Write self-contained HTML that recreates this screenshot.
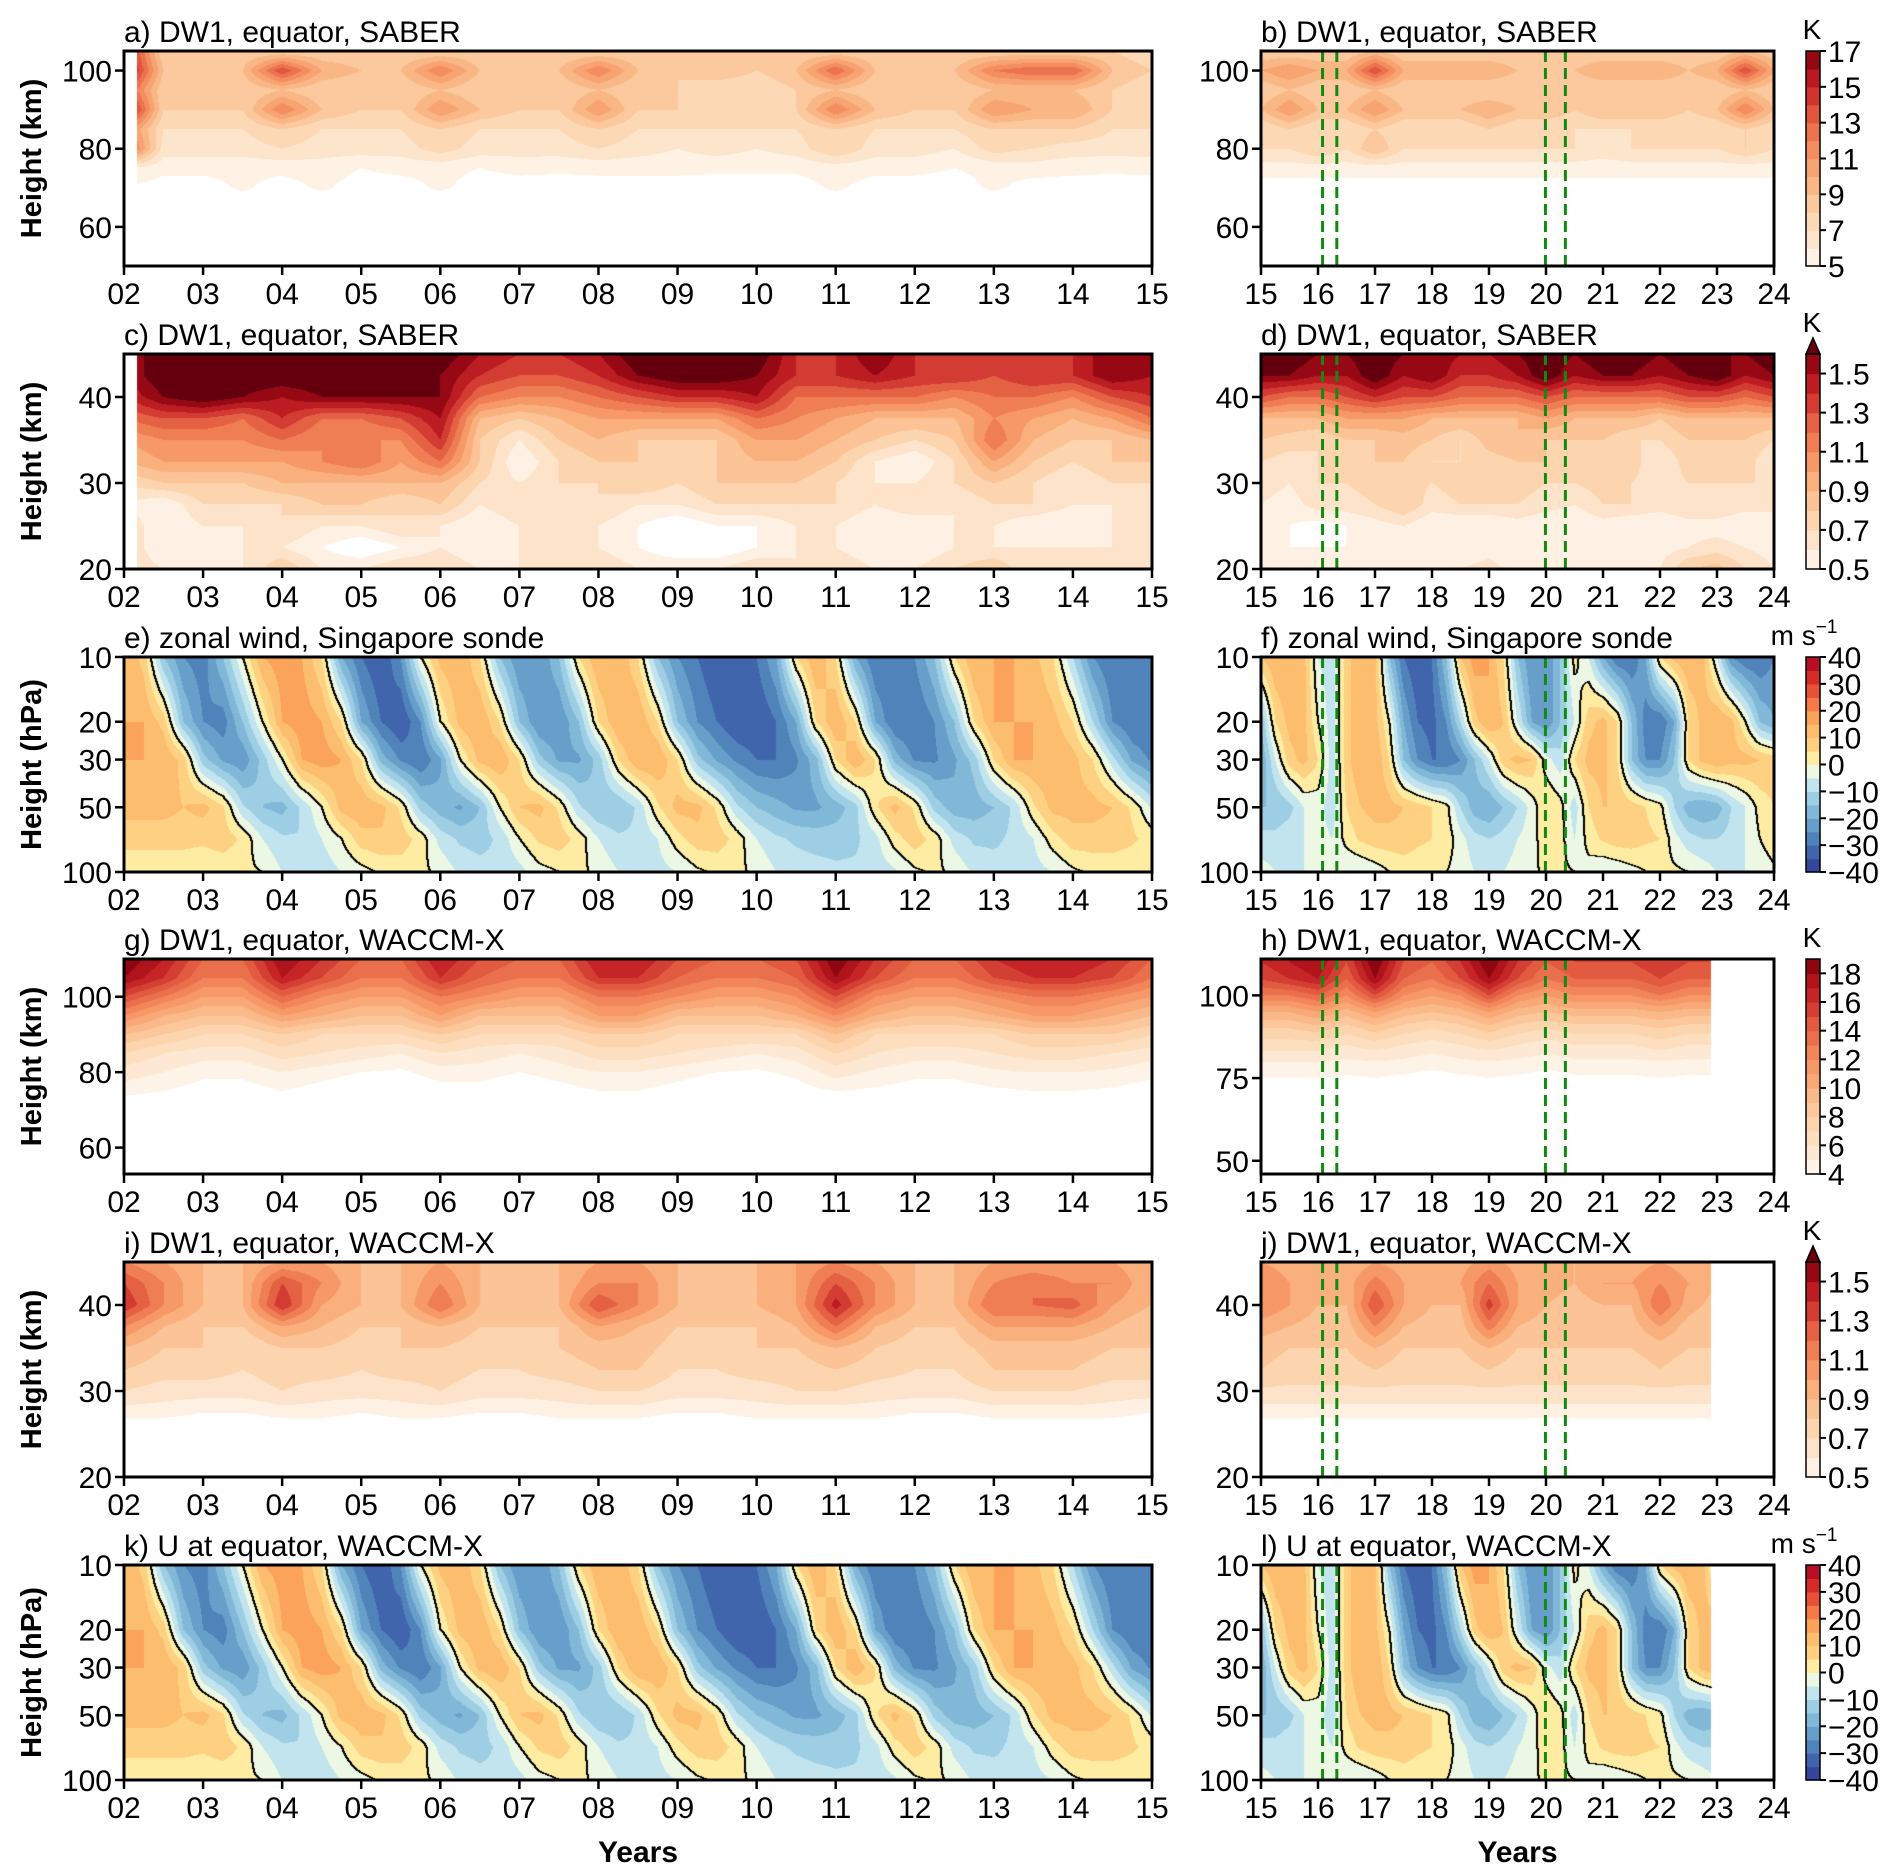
<!DOCTYPE html>
<html>
<head>
<meta charset="utf-8">
<style>
  html,body{margin:0;padding:0;background:#fff;}
  #fig{position:relative;width:1892px;height:1873px;overflow:hidden;background:#fff;font-family:"Liberation Sans",Arial,sans-serif;}
  canvas{position:absolute;}
  svg{position:absolute;left:0;top:0;}
</style>
</head>
<body>
<div id="fig">
<svg id="ov" width="1892" height="1873"></svg>
</div>
<script>
// ---------------- DATA ----------------
const heightsA = [105,100,95,90,85,80,75,70,65,60,50];
const dwA = [
 [16,8,8,8,8,8,8,8,8,8,8,8,8,8,8,8,8,8,8,8,8,8,8,8,8,8,7],
 [17,9,9,9,14,10,9,9,12,9,9,9,12,9,8,9,8,9,13,9,8,9,12,13,13,9,8],
 [14,8,8,8,9,8,8,8,9,8,8,8,9,8,8,7,7,8,9,8,8,8,9,9,9,8,7],
 [17,8,8,8,12,9,8,8,11,9,8,8,11,8,8,8,7,8,12,9,8,8,11,10,10,8,7],
 [12,7,7,7,8,7,7,7,8,7,7,7,8,7,7,7,7,7,8,7,7,7,8,8,8,7,7],
 [14,6.5,6.5,6.5,7,6.5,6.5,6.5,7.5,6.5,6.5,6.5,7,6.5,6,6.5,6,6.5,8,6.5,6.5,6,7.5,7,6.5,6.5,6.5],
 [6,5.3,5.3,5.3,5.3,5.5,5,5.3,5.3,5,5.3,5.2,5.3,5.3,5.3,5.2,5.2,5.2,5.5,5.3,5.3,5,5.3,5.5,5.3,5.2,5.3],
 [5,4.5,4.5,5.2,4.5,5.2,4.5,4.5,5.2,4.5,4.5,4.5,4.5,4.5,4.5,4.5,4.5,4.5,5.2,4.5,4.5,4.5,5.2,4.5,4.5,4.5,4.5],
 [4,4,4,4,4,4,4,4,4,4,4,4,4,4,4,4,4,4,4,4,4,4,4,4,4,4,4],
 [3.5,3.5,3.5,3.5,3.5,3.5,3.5,3.5,3.5,3.5,3.5,3.5,3.5,3.5,3.5,3.5,3.5,3.5,3.5,3.5,3.5,3.5,3.5,3.5,3.5,3.5,3.5],
 [3,3,3,3,3,3,3,3,3,3,3,3,3,3,3,3,3,3,3,3,3,3,3,3,3,3,3]
];
const heightsB = [105,100,95,90,85,80,75,70,65,60,50];
const dwB = [
 [8,8,8,8,9,8,8,8,8,8,8,8,8,8,8,8,8,9,8],
 [10,11,10,10,14,10,10,10,10,9,9,9,10,10,10,9,10,14,10],
 [8,9,8,8,9,8,8,8,8,8,8,8,8,8,8,8,8,9,8],
 [9,11,9,9,11,9,9,9,10,9,9,8,9,9,9,8,9,12,9],
 [7,8,7,7,8,7,7,7,8,7,7,7,7,7,7,7,7,8,7],
 [7,7,8,7,9,7,7,7,7,7,7,7,6.5,7,7,7,7,8,7],
 [5.5,5.5,5.5,5.5,5.5,5.5,5.5,5.5,5.5,5.5,5.5,5.5,5.5,5.5,5.5,5.5,5.5,5.5,5.5],
 [4.5,4.5,4.5,4.5,4.5,4.5,4.5,4.5,4.5,4.5,4.5,4.5,4.5,4.5,4.5,4.5,4.5,4.5,4.5],
 [4,4,4,4,4,4,4,4,4,4,4,4,4,4,4,4,4,4,4],
 [3.5,3.5,3.5,3.5,3.5,3.5,3.5,3.5,3.5,3.5,3.5,3.5,3.5,3.5,3.5,3.5,3.5,3.5,3.5],
 [3,3,3,3,3,3,3,3,3,3,3,3,3,3,3,3,3,3,3]
];
const heightsC = [45,42.5,40,37.5,35,32.5,30,27.5,25,22.5,20];
const dwC = [
 [1.5,1.7,1.7,1.7,1.7,1.7,1.7,1.7,1.7,1.5,1.4,1.4,1.5,1.7,1.7,1.7,1.7,1.4,1.4,1.6,1.4,1.4,1.3,1.4,1.4,1.6,1.5],
 [1.5,1.7,1.7,1.7,1.7,1.7,1.7,1.7,1.6,1.4,1.3,1.3,1.4,1.6,1.7,1.7,1.6,1.4,1.4,1.5,1.4,1.4,1.3,1.4,1.4,1.6,1.5],
 [1.4,1.6,1.7,1.6,1.5,1.6,1.6,1.6,1.6,1.2,1.1,1.1,1.2,1.3,1.4,1.4,1.5,1.2,1.2,1.2,1.2,1.1,1.2,1.2,1.1,1.3,1.4],
 [1.2,1.3,1.3,1.2,1.4,1.2,1.2,1.3,1.5,0.9,0.8,0.9,1.0,1.0,1.0,1.0,1.2,1.1,1.0,0.9,0.9,0.9,1.1,1.0,0.9,1.0,1.2],
 [1.0,1.1,1.1,1.1,1.2,1.1,1.1,1.1,1.4,0.8,0.6,0.8,0.9,0.8,0.8,0.8,1.0,1.0,0.9,0.8,0.7,0.8,1.2,0.9,0.8,0.8,0.9],
 [0.9,1.0,1.0,1.0,1.0,1.1,1.2,1.0,1.2,0.8,0.5,0.7,0.8,0.8,0.7,0.8,0.9,0.9,0.8,0.6,0.5,0.7,1.0,0.8,0.7,0.8,0.8],
 [0.7,0.8,0.8,0.8,0.9,0.9,0.9,0.9,0.9,0.7,0.6,0.7,0.7,0.8,0.7,0.8,0.8,0.8,0.7,0.6,0.6,0.7,0.8,0.7,0.6,0.7,0.7],
 [0.6,0.5,0.7,0.7,0.7,0.8,0.8,0.7,0.8,0.6,0.7,0.7,0.7,0.6,0.6,0.7,0.7,0.7,0.7,0.6,0.7,0.6,0.7,0.7,0.6,0.6,0.7],
 [0.7,0.5,0.6,0.6,0.7,0.6,0.6,0.7,0.6,0.5,0.6,0.6,0.6,0.5,0.4,0.5,0.5,0.6,0.6,0.5,0.5,0.6,0.6,0.5,0.5,0.6,0.6],
 [0.7,0.5,0.5,0.6,0.6,0.5,0.4,0.5,0.6,0.5,0.6,0.6,0.6,0.5,0.4,0.4,0.5,0.6,0.6,0.5,0.5,0.6,0.6,0.6,0.6,0.6,0.6],
 [0.7,0.6,0.6,0.6,0.8,0.6,0.6,0.7,0.7,0.6,0.6,0.6,0.7,0.6,0.6,0.6,0.7,0.6,0.7,0.6,0.6,0.7,0.8,0.6,0.6,0.6,0.6]
];
const heightsD = [45,42.5,40,37.5,35,32.5,30,27.5,25,22.5,20];
const dwD = [
 [1.6,1.7,1.6,1.6,1.7,1.6,1.6,1.5,1.5,1.6,1.7,1.6,1.7,1.7,1.6,1.7,1.6,1.6,1.7],
 [1.6,1.6,1.5,1.5,1.7,1.5,1.6,1.4,1.4,1.5,1.7,1.5,1.6,1.6,1.5,1.6,1.7,1.5,1.6],
 [1.3,1.2,1.2,1.3,1.4,1.3,1.3,1.2,1.2,1.2,1.3,1.2,1.2,1.2,1.2,1.3,1.3,1.2,1.3],
 [0.9,0.9,0.9,1.0,1.0,1.0,0.9,0.9,0.9,0.9,1.0,0.9,0.9,0.9,0.8,0.9,0.9,0.9,0.9],
 [0.8,0.75,0.7,0.8,0.8,0.85,0.8,0.7,0.85,0.9,0.8,0.8,0.8,0.7,0.7,0.8,0.8,0.8,0.7],
 [0.7,0.65,0.7,0.75,0.8,0.8,0.7,0.7,0.75,0.8,0.8,0.75,0.8,0.75,0.6,0.75,0.8,0.75,0.6],
 [0.65,0.6,0.7,0.7,0.75,0.75,0.7,0.75,0.7,0.75,0.7,0.7,0.75,0.7,0.65,0.7,0.7,0.7,0.7],
 [0.6,0.55,0.65,0.65,0.7,0.8,0.65,0.7,0.7,0.7,0.65,0.6,0.7,0.7,0.65,0.7,0.7,0.65,0.65],
 [0.55,0.5,0.45,0.5,0.55,0.6,0.5,0.5,0.5,0.55,0.5,0.5,0.55,0.5,0.5,0.55,0.55,0.5,0.5],
 [0.55,0.5,0.5,0.5,0.5,0.5,0.5,0.5,0.55,0.5,0.5,0.5,0.5,0.5,0.55,0.6,0.65,0.6,0.55],
 [0.6,0.6,0.55,0.55,0.55,0.6,0.55,0.6,0.65,0.55,0.55,0.55,0.6,0.6,0.6,0.8,0.85,0.7,0.6]
];
const pressE = [10,20,30,50,70,100];
const windE = [
 [15,8,-15,-25,-28,-15,0,15,18,15,5,-20,-30,-35,-25,0,12,15,5,-15,-25,-25,-15,5,15,15,5,-15,-25,-30,-35,-35,-30,-20,5,15,5,-20,-30,-30,-25,-15,5,15,15,15,12,5,-10,-25,-30,-30,-28],
 [15,15,8,-15,-25,-28,-15,0,15,18,15,5,-20,-30,-35,-25,0,12,15,5,-15,-25,-25,-15,5,15,15,5,-15,-25,-30,-35,-35,-30,-20,5,15,5,-20,-30,-30,-25,-15,5,15,15,15,12,5,-10,-25,-30,-30],
 [15,15,15,8,-13,-21,-24,-13,0,15,18,15,5,-17,-26,-30,-21,0,12,15,5,-13,-21,-21,-13,5,15,15,5,-13,-21,-26,-30,-30,-26,-17,5,15,5,-17,-26,-26,-21,-13,5,15,15,15,12,5,-8,-21,-26],
 [12,12,12,10,12,6,-9,-15,-17,-9,0,12,14,12,4,-12,-18,-21,-15,0,10,12,4,-9,-15,-15,-9,4,12,12,4,-9,-15,-18,-21,-21,-18,-12,4,12,4,-12,-18,-18,-15,-9,4,12,12,12,10,4,-6],
 [7,7,7,7,6,8,4,-5,-9,-10,-5,0,8,9,8,3,-7,-11,-12,-9,0,6,8,3,-5,-9,-9,-5,3,8,8,3,-5,-9,-11,-12,-12,-11,-7,3,8,3,-7,-11,-11,-9,-5,3,8,8,8,6,3],
 [1,1,1,1,1,1,1,0,-5,-7,-8,-5,-2,1,2,1,-1,-6,-8,-9,-7,-2,0,1,-1,-5,-7,-7,-5,-1,1,1,-1,-5,-7,-8,-9,-9,-8,-6,-1,1,-1,-6,-8,-8,-7,-5,-1,1,1,1,0]
];
const pressF = [10,20,30,50,70,100];
const windF = [
 [10,15,15,12,-5,-8,8,15,12,-15,-30,-35,-30,-15,10,18,15,5,-15,-25,-25,-15,2,-5,-20,-30,-30,-20,5,12,15,12,-5,-25,-30,-30,-25],
 [-15,5,12,12,0,-8,8,15,12,0,-20,-30,-32,-25,-10,8,15,10,-5,-20,-25,-15,-5,8,12,5,-15,-28,-30,-20,5,12,15,12,0,-15,-20],
 [-20,-5,8,12,5,-8,8,15,15,5,-15,-25,-30,-30,-25,-15,-5,8,12,10,-3,-8,5,12,12,5,-15,-25,-25,-15,5,12,15,12,12,10,8],
 [-15,-15,-12,-5,-3,-8,5,10,12,12,10,8,5,2,-10,-18,-20,-15,-10,-3,5,2,-8,5,10,10,8,5,2,-10,-18,-20,-18,-10,-5,2,5],
 [-8,-8,-6,-5,-3,-5,2,6,8,8,8,6,5,3,-3,-8,-10,-8,-5,-2,3,2,-5,2,6,8,8,6,5,-3,-8,-10,-10,-8,-5,0,3],
 [-3,-5,-5,-5,-3,-3,-5,-5,-3,0,2,2,2,0,-2,-5,-6,-5,-3,-1,1,1,0,-2,-5,-4,-2,0,1,1,0,-2,-5,-6,-5,-3,-1]
];
const heightsG = [110,105,100,95,90,85,80,75,70,50];
const dwG = [
 [19,17,14,14,18,16,14,14,17,15,14,14,17,17,15,14,14,15,19,16,14,14,16,17,17,16,14],
 [18,16,13,13,17,15,13,13,16,14,13,13,16,16,14,13,13,14,18,15,13,13,15,16,16,15,13],
 [15,13,11,11,14,12,11,11,13,12,11,11,13,13,12,11,11,12,15,12,11,11,12,13,13,12,11],
 [12,10,9,9,11,10,9,9,11,9,9,9,11,11,9,9,9,10,12,10,9,9,10,11,11,10,9],
 [9,8,7,7,8,7,7,7,8,7,7,7,8,8,7,7,7,7,9,7,7,7,7,8,8,8,7],
 [7,6,5.5,5.5,6.5,6,5.5,5,6,5.5,5,5.5,6.5,6.5,6,5.5,5,5.5,7,6,5.5,5.5,6,6.5,6.5,6,5.5],
 [5.5,5,4.3,4.3,5,4.5,4,3.8,4.5,4.5,4,4.5,5,5,4.5,4,3.8,4.3,5.5,4.8,4.3,4.3,4.8,5,5,4.8,4.3],
 [4.5,4,3.5,3.5,4,3.5,3,3,3.5,3.5,3,3.5,4,4,3.5,3,3,3.5,4,3.8,3.5,3.5,3.8,4,4,3.8,3.5],
 [2.5,2.5,2.5,2.5,2.5,2.5,2.5,2.5,2.5,2.5,2.5,2.5,2.5,2.5,2.5,2.5,2.5,2.5,2.5,2.5,2.5,2.5,2.5,2.5,2.5,2.5,2.5],
 [1,1,1,1,1,1,1,1,1,1,1,1,1,1,1,1,1,1,1,1,1,1,1,1,1,1,1]
];
const heightsH = [110,105,100,95,90,85,80,75,70,46];
const dwH = [
 [16,17,18,15,19,15,14,16,19,16,14,15,15,15,16,15,15],
 [15,16,17,14,18,14,13,15,18,15,13,14,14,14,15,14,14],
 [13,13,14,12,15,12,11,12,15,12,11,12,12,12,13,12,12],
 [10,10,11,9.5,11,9.5,9,9.5,11,9.5,9,9.5,9.5,9.5,10,9.5,9.5],
 [8,8,8.5,7.5,8.5,7.5,7,7.5,8.5,7.5,7,7.5,7.5,7.5,8,7.5,7.5],
 [6.5,6.5,6.5,6,6.5,6,5.5,6,6.5,6,5.5,6,6,6,6.5,6,6],
 [5,5,5,4.8,5,4.8,4.5,4.8,5,4.8,4.5,4.8,4.8,4.8,5,4.8,4.8],
 [4,4,4,3.8,4,3.8,3.5,3.8,4,3.8,3.5,3.8,3.8,3.8,4,3.8,3.8],
 [2.5,2.5,2.5,2.5,2.5,2.5,2.5,2.5,2.5,2.5,2.5,2.5,2.5,2.5,2.5,2.5,2.5],
 [1,1,1,1,1,1,1,1,1,1,1,1,1,1,1,1,1]
];
const heightsI = [45,42.5,40,37.5,35,32.5,30,27.5,25,22.5,20];
const dwI = [
 [1.1,1.0,0.9,0.9,1.0,1.0,0.9,0.9,1.0,0.9,0.9,0.9,1.0,1.0,0.9,0.9,0.9,1.0,1.1,1.0,0.9,0.9,1.0,1.0,1.0,1.0,0.9],
 [1.3,1.1,0.9,0.9,1.3,1.1,0.9,0.9,1.1,0.9,0.9,0.9,1.1,1.1,0.9,0.9,0.9,1.0,1.3,1.1,0.9,0.9,1.1,1.2,1.1,1.1,0.9],
 [1.4,1.1,0.9,0.9,1.4,1.0,0.9,0.9,1.2,0.9,0.9,0.9,1.3,1.1,0.9,0.8,0.9,1.0,1.45,1.1,0.9,0.9,1.2,1.2,1.25,1.0,0.9],
 [1.1,0.9,0.8,0.8,1.0,0.9,0.8,0.8,0.9,0.8,0.8,0.8,1.0,0.9,0.8,0.8,0.8,0.9,1.2,0.9,0.8,0.8,1.0,1.0,1.0,0.9,0.8],
 [0.9,0.8,0.8,0.7,0.8,0.8,0.75,0.8,0.8,0.75,0.75,0.8,0.85,0.85,0.75,0.75,0.8,0.8,0.9,0.8,0.75,0.75,0.85,0.85,0.85,0.8,0.8],
 [0.8,0.75,0.75,0.7,0.75,0.75,0.7,0.75,0.75,0.7,0.7,0.75,0.8,0.8,0.7,0.7,0.75,0.75,0.8,0.75,0.7,0.7,0.8,0.8,0.8,0.75,0.75],
 [0.7,0.65,0.65,0.65,0.7,0.65,0.65,0.65,0.7,0.65,0.65,0.65,0.7,0.7,0.65,0.65,0.65,0.7,0.7,0.65,0.65,0.65,0.7,0.7,0.7,0.65,0.65],
 [0.55,0.55,0.5,0.5,0.55,0.55,0.5,0.55,0.55,0.5,0.5,0.55,0.55,0.55,0.5,0.5,0.55,0.55,0.55,0.55,0.5,0.5,0.55,0.55,0.55,0.55,0.5],
 [0.35,0.35,0.35,0.35,0.35,0.35,0.35,0.35,0.35,0.35,0.35,0.35,0.35,0.35,0.35,0.35,0.35,0.35,0.35,0.35,0.35,0.35,0.35,0.35,0.35,0.35,0.35],
 [0.2,0.2,0.2,0.2,0.2,0.2,0.2,0.2,0.2,0.2,0.2,0.2,0.2,0.2,0.2,0.2,0.2,0.2,0.2,0.2,0.2,0.2,0.2,0.2,0.2,0.2,0.2],
 [0.1,0.1,0.1,0.1,0.1,0.1,0.1,0.1,0.1,0.1,0.1,0.1,0.1,0.1,0.1,0.1,0.1,0.1,0.1,0.1,0.1,0.1,0.1,0.1,0.1,0.1,0.1]
];
const heightsJ = [45,42.5,40,37.5,35,32.5,30,27.5,25,22.5,20];
const dwJ = [
 [1.0,0.95,0.95,0.9,1.0,0.95,0.9,0.95,1.05,0.95,0.9,0.9,0.95,0.95,1.0,0.95,0.9],
 [1.1,1.0,0.95,0.95,1.15,1.0,0.95,1.0,1.2,1.0,0.95,0.9,1.0,1.0,1.1,1.0,0.9],
 [1.1,1.0,0.9,0.9,1.3,1.0,0.9,0.9,1.35,1.0,0.9,0.85,0.9,0.9,1.2,0.95,0.85],
 [0.95,0.9,0.85,0.85,1.1,0.9,0.85,0.85,1.15,0.9,0.85,0.8,0.85,0.85,1.0,0.85,0.8],
 [0.85,0.8,0.8,0.8,0.9,0.8,0.8,0.8,0.9,0.8,0.8,0.8,0.8,0.8,0.85,0.8,0.8],
 [0.8,0.75,0.75,0.75,0.8,0.75,0.75,0.75,0.8,0.75,0.75,0.75,0.75,0.75,0.8,0.75,0.75],
 [0.68,0.68,0.68,0.68,0.68,0.68,0.68,0.68,0.68,0.68,0.68,0.68,0.68,0.68,0.68,0.68,0.68],
 [0.55,0.55,0.55,0.55,0.55,0.55,0.55,0.55,0.55,0.55,0.55,0.55,0.55,0.55,0.55,0.55,0.55],
 [0.35,0.35,0.35,0.35,0.35,0.35,0.35,0.35,0.35,0.35,0.35,0.35,0.35,0.35,0.35,0.35,0.35],
 [0.2,0.2,0.2,0.2,0.2,0.2,0.2,0.2,0.2,0.2,0.2,0.2,0.2,0.2,0.2,0.2,0.2],
 [0.1,0.1,0.1,0.1,0.1,0.1,0.1,0.1,0.1,0.1,0.1,0.1,0.1,0.1,0.1,0.1,0.1]
];
const pressK = [10,20,30,50,70,100];
const windK = [
 [15,8,-15,-25,-28,-15,0,15,18,15,5,-20,-30,-35,-25,0,12,15,5,-15,-25,-25,-15,5,15,15,5,-15,-25,-30,-35,-35,-30,-20,5,15,5,-20,-30,-30,-25,-15,5,15,15,15,12,5,-10,-25,-30,-30,-28],
 [15,15,8,-15,-25,-28,-15,0,15,18,15,5,-20,-30,-35,-25,0,12,15,5,-15,-25,-25,-15,5,15,15,5,-15,-25,-30,-35,-35,-30,-20,5,15,5,-20,-30,-30,-25,-15,5,15,15,15,12,5,-10,-25,-30,-30],
 [15,15,15,8,-13,-21,-24,-13,0,15,18,15,5,-17,-26,-30,-21,0,12,15,5,-13,-21,-21,-13,5,15,15,5,-13,-21,-26,-30,-30,-26,-17,5,15,5,-17,-26,-26,-21,-13,5,15,15,15,12,5,-8,-21,-26],
 [12,12,12,10,12,6,-9,-15,-17,-9,0,12,14,12,4,-12,-18,-21,-15,0,10,12,4,-9,-15,-15,-9,4,12,12,4,-9,-15,-18,-21,-21,-18,-12,4,12,4,-12,-18,-18,-15,-9,4,12,12,12,10,4,-6],
 [7,7,7,7,6,8,4,-5,-9,-10,-5,0,8,9,8,3,-7,-11,-12,-9,0,6,8,3,-5,-9,-9,-5,3,8,8,3,-5,-9,-11,-12,-12,-11,-7,3,8,3,-7,-11,-11,-9,-5,3,8,8,8,6,3],
 [1,1,1,1,1,1,1,0,-5,-7,-8,-5,-2,1,2,1,-1,-6,-8,-9,-7,-2,0,1,-1,-5,-7,-7,-5,-1,1,1,-1,-5,-7,-8,-9,-9,-8,-6,-1,1,-1,-6,-8,-8,-7,-5,-1,1,1,1,0]
];
const pressL = [10,20,30,50,70,100];
const windL = [
 [10,15,15,12,-5,-8,8,15,12,-15,-30,-35,-30,-15,10,18,15,5,-15,-25,-25,-15,2,-5,-20,-30,-30,-20,5,12,15,12,-5],
 [-15,5,12,12,0,-8,8,15,12,0,-20,-30,-32,-25,-10,8,15,10,-5,-20,-25,-15,-5,8,12,5,-15,-28,-30,-20,5,12,15],
 [-20,-5,8,12,5,-8,8,15,15,5,-15,-25,-30,-30,-25,-15,-5,8,12,10,-3,-8,5,12,12,5,-15,-25,-25,-15,5,12,15],
 [-15,-15,-12,-5,-3,-8,5,10,12,12,10,8,5,2,-10,-18,-20,-15,-10,-3,5,2,-8,5,10,10,8,5,2,-10,-18,-20,-18],
 [-8,-8,-6,-5,-3,-5,2,6,8,8,8,6,5,3,-3,-8,-10,-8,-5,-2,3,2,-5,2,6,8,8,6,5,-3,-8,-10,-10],
 [-3,-5,-5,-5,-3,-3,-5,-5,-3,0,2,2,2,0,-2,-5,-6,-5,-3,-1,1,1,0,-2,-5,-4,-2,0,1,1,0,-2,-5]
];
const yearTicksLeft = ['02','03','04','05','06','07','08','09','10','11','12','13','14','15'];
const yearTicksRight = ['15','16','17','18','19','20','21','22','23','24'];
const dashedYears = [2016.08, 2016.33, 2019.99, 2020.34];
const cbTicksK1 = [5,7,9,11,13,15,17];
const cbTicksK2 = [0.5,0.7,0.9,1.1,1.3,1.5];
const cbTicksU = [-40,-30,-20,-10,0,10,20,30,40];
const cbTicksK4 = [4,6,8,10,12,14,16,18];

// ---------------- LAYOUT ----------------
const LEFT = {x0:124, x1:1152, t0:2002, t1:2015, labels:yearTicksLeft};
const RIGHT = {x0:1261, x1:1774, t0:2015, t1:2024, labels:yearTicksRight};
const ROW_TOP = [51,354,657,959,1262,1565];
const PH = 215;
const CBX = 1806, CBW = 14;

const REDS = [[0,'#fff8f1'],[0.1,'#fde9d3'],[0.25,'#fcd2a9'],[0.4,'#f9b27f'],[0.55,'#f48b5d'],[0.7,'#e25b40'],[0.82,'#c9282a'],[0.92,'#a90f17'],[1,'#7d0010']];
const RDYLBU = [[0,'#313695'],[0.125,'#4575b4'],[0.25,'#74add1'],[0.375,'#abd9e9'],[0.45,'#e0f3f8'],[0.5,'#ffffbf'],[0.55,'#fee090'],[0.7,'#fdae61'],[0.8,'#f46d43'],[0.9,'#d73027'],[1,'#a50026']];

const cbars = [
  {row:0, vmin:5, vmax:17, step:1, cmap:REDS, ticks:cbTicksK1, unit:'K', extend:false, under:'white', fmt:v=>String(v)},
  {row:1, vmin:0.5, vmax:1.6, step:0.1, cmap:REDS, ticks:cbTicksK2, unit:'K', extend:true, under:'white', fmt:v=>v.toFixed(1)},
  {row:2, vmin:-40, vmax:40, step:5, cmap:RDYLBU, ticks:cbTicksU, unit:'ms', extend:false, under:'low', fmt:v=>v<0?'\u2212'+(-v):String(v)},
  {row:3, vmin:4, vmax:19, step:1, cmap:REDS, ticks:cbTicksK4, unit:'K', extend:false, under:'white', fmt:v=>String(v)},
  {row:4, vmin:0.5, vmax:1.6, step:0.1, cmap:REDS, ticks:cbTicksK2, unit:'K', extend:true, under:'white', fmt:v=>v.toFixed(1)},
  {row:5, vmin:-40, vmax:40, step:5, cmap:RDYLBU, ticks:cbTicksU, unit:'ms', extend:false, under:'low', fmt:v=>v<0?'\u2212'+(-v):String(v)}
];

const panels = [
 {id:'a', col:LEFT, row:0, title:'a) DW1, equator, SABER', ylab:'Height (km)', axis:{type:'lin',min:50,max:105,ticks:[60,80,100]}, levels:heightsA, data:dwA, dt0:2002, dt:0.5, tStart:2002.17, tEnd:2015, wind:false},
 {id:'b', col:RIGHT, row:0, title:'b) DW1, equator, SABER', ylab:'', axis:{type:'lin',min:50,max:105,ticks:[60,80,100]}, levels:heightsB, data:dwB, dt0:2015, dt:0.5, tStart:2015, tEnd:2024, wind:false},
 {id:'c', col:LEFT, row:1, title:'c) DW1, equator, SABER', ylab:'Height (km)', axis:{type:'lin',min:20,max:45,ticks:[20,30,40]}, levels:heightsC, data:dwC, dt0:2002, dt:0.5, tStart:2002.17, tEnd:2015, wind:false},
 {id:'d', col:RIGHT, row:1, title:'d) DW1, equator, SABER', ylab:'', axis:{type:'lin',min:20,max:45,ticks:[20,30,40]}, levels:heightsD, data:dwD, dt0:2015, dt:0.5, tStart:2015, tEnd:2024, wind:false},
 {id:'e', col:LEFT, row:2, title:'e) zonal wind, Singapore sonde', ylab:'Height (hPa)', axis:{type:'log',min:10,max:100,ticks:[10,20,30,50,100]}, levels:pressE, data:windE, dt0:2002, dt:0.25, tStart:2002, tEnd:2015, wind:true},
 {id:'f', col:RIGHT, row:2, title:'f) zonal wind, Singapore sonde', ylab:'', axis:{type:'log',min:10,max:100,ticks:[10,20,30,50,100]}, levels:pressF, data:windF, dt0:2015, dt:0.25, tStart:2015, tEnd:2024, wind:true},
 {id:'g', col:LEFT, row:3, title:'g) DW1, equator, WACCM-X', ylab:'Height (km)', axis:{type:'lin',min:53,max:110,ticks:[60,80,100]}, levels:heightsG, data:dwG, dt0:2002, dt:0.5, tStart:2002, tEnd:2015, wind:false},
 {id:'h', col:RIGHT, row:3, title:'h) DW1, equator, WACCM-X', ylab:'', axis:{type:'lin',min:46,max:111,ticks:[50,75,100]}, levels:heightsH, data:dwH, dt0:2015, dt:0.5, tStart:2015, tEnd:2022.9, wind:false},
 {id:'i', col:LEFT, row:4, title:'i) DW1, equator, WACCM-X', ylab:'Height (km)', axis:{type:'lin',min:20,max:45,ticks:[20,30,40]}, levels:heightsI, data:dwI, dt0:2002, dt:0.5, tStart:2002, tEnd:2015, wind:false},
 {id:'j', col:RIGHT, row:4, title:'j) DW1, equator, WACCM-X', ylab:'', axis:{type:'lin',min:20,max:45,ticks:[20,30,40]}, levels:heightsJ, data:dwJ, dt0:2015, dt:0.5, tStart:2015, tEnd:2022.9, wind:false},
 {id:'k', col:LEFT, row:5, title:'k) U at equator, WACCM-X', ylab:'Height (hPa)', axis:{type:'log',min:10,max:100,ticks:[10,20,30,50,100]}, levels:pressK, data:windK, dt0:2002, dt:0.25, tStart:2002, tEnd:2015, wind:true},
 {id:'l', col:RIGHT, row:5, title:'l) U at equator, WACCM-X', ylab:'', axis:{type:'log',min:10,max:100,ticks:[10,20,30,50,100]}, levels:pressL, data:windL, dt0:2015, dt:0.25, tStart:2015, tEnd:2022.9, wind:true}
];

// ---------------- HELPERS ----------------
const NS = 'http://www.w3.org/2000/svg';
const ov = document.getElementById('ov');
const fig = document.getElementById('fig');
function hexRGB(h){return [parseInt(h.slice(1,3),16),parseInt(h.slice(3,5),16),parseInt(h.slice(5,7),16)];}
function cmapRGB(stops,p){
  p=Math.max(0,Math.min(1,p));
  for(let i=0;i<stops.length-1;i++){
    const a=stops[i],b=stops[i+1];
    if(p<=b[0]){const f=(p-a[0])/(b[0]-a[0]);const A=hexRGB(a[1]),B=hexRGB(b[1]);return [A[0]+(B[0]-A[0])*f,A[1]+(B[1]-A[1])*f,A[2]+(B[2]-A[2])*f].map(Math.round);}
  }
  return hexRGB(stops[stops.length-1][1]);
}
function bandRGB(cb,v){
  const n=Math.round((cb.vmax-cb.vmin)/cb.step);
  if(v<cb.vmin){ if(cb.under==='white') return null; return cmapRGB(cb.cmap,0.5/n); }
  let k=Math.floor((v-cb.vmin)/cb.step+1e-9);
  if(k>=n){ if(cb.extend) return [100,0,13]; k=n-1; }
  return cmapRGB(cb.cmap,(k+0.5)/n);
}
function yOf(p,v){
  const top=ROW_TOP[p.row], a=p.axis;
  if(a.type==='lin') return top+(a.max-v)/(a.max-a.min)*PH;
  return top+(Math.log10(v)-Math.log10(a.min))/(Math.log10(a.max)-Math.log10(a.min))*PH;
}
function xOf(col,t){return col.x0+(t-col.t0)/(col.t1-col.t0)*(col.x1-col.x0);}
function sv(tag,attrs){const e=document.createElementNS(NS,tag);for(const k in attrs)e.setAttribute(k,attrs[k]);ov.appendChild(e);return e;}
function txt(x,y,s,size,anchor,weight){
  const t=sv('text',{x:x,y:y,'font-size':size,'text-anchor':anchor||'start','font-family':'"Liberation Sans", Arial, sans-serif','font-weight':weight||'normal',fill:'#000'});
  t.textContent=s;return t;
}

// ---------------- FIELDS ----------------
function drawField(p){
  const cb=cbars[p.row];
  const col=p.col, top=ROW_TOP[p.row];
  const w=col.x1-col.x0, h=PH;
  const cv=document.createElement('canvas');
  
  
  cv.width=w; cv.height=h;
  cv.style.left=col.x0+'px'; cv.style.top=top+'px';
  fig.insertBefore(cv, ov);
  const ctx=cv.getContext('2d');
  const img=ctx.createImageData(w,h);
  const rowsPix=p.levels.map(l=>yOf(p,l)-top);
  const ncol=p.data[0].length, nrow=p.levels.length;
  const vals=new Float32Array(w*h).fill(NaN);
  for(let px=0;px<w;px++){
    const t=col.t0+(px+0.5)/w*(col.t1-col.t0);
    if(t<p.tStart||t>p.tEnd) continue;
    let fi=(t-p.dt0)/p.dt; fi=Math.max(0,Math.min(ncol-1,fi));
    const i0=Math.min(ncol-2,Math.floor(fi)), fx=fi-i0;
    for(let py=0;py<h;py++){
      const y=py+0.5; let k0,fy;
      if(y<=rowsPix[0]){k0=0;fy=0;}
      else if(y>=rowsPix[nrow-1]){k0=nrow-2;fy=1;}
      else{ k0=0; while(k0<nrow-2 && y>rowsPix[k0+1]) k0++; fy=(y-rowsPix[k0])/(rowsPix[k0+1]-rowsPix[k0]); }
      const r0=p.data[k0], r1=p.data[k0+1];
      const a=r0[i0]*(1-fx)+r0[i0+1]*fx, b=r1[i0]*(1-fx)+r1[i0+1]*fx;
      vals[py*w+px]=a*(1-fy)+b*fy;
    }
  }
  const d=img.data;
  for(let i=0;i<w*h;i++){
    const v=vals[i]; let c=null;
    if(!isNaN(v)) c=bandRGB(cb,v);
    if(c){d[i*4]=c[0];d[i*4+1]=c[1];d[i*4+2]=c[2];d[i*4+3]=255;}
    else{d[i*4]=255;d[i*4+1]=255;d[i*4+2]=255;d[i*4+3]=255;}
  }
  if(p.wind){
    for(let py=0;py<h-1;py++)for(let px=0;px<w-1;px++){
      const i=py*w+px, v=vals[i];
      if(isNaN(v)) continue;
      const r=vals[i+1], b=vals[i+w];
      if((!isNaN(r)&&(v>=0)!==(r>=0))||(!isNaN(b)&&(v>=0)!==(b>=0))){
        for(const j of [i,i+1]){d[j*4]=0;d[j*4+1]=0;d[j*4+2]=0;}
      }
    }
  }
  ctx.putImageData(img,0,0);
}

// ---------------- AXES ----------------
function drawAxes(p){
  const col=p.col, top=ROW_TOP[p.row], bot=top+PH;
  if(col===RIGHT){
    dashedYears.forEach(yr=>{
      const x=xOf(col,yr);
      const l=sv('line',{x1:x,y1:top,x2:x,y2:bot,stroke:'#128a12','stroke-width':3,'stroke-dasharray':'11,6'});
      
      
    });
  }
  const box=sv('rect',{x:col.x0,y:top,width:col.x1-col.x0,height:PH,fill:'none',stroke:'#000','stroke-width':3});
  
  
  const ti=txt(col.x0,top-9,p.title,30,'start');
  
  
  col.labels.forEach((lab,i)=>{
    const x=xOf(col,col.t0+i);
    const tk=sv('line',{x1:x,y1:bot,x2:x,y2:bot+9,stroke:'#000','stroke-width':2.5});
    
    
    const tl=txt(x,bot+38,lab,30,'middle');
    
    
  });
  p.axis.ticks.forEach(v=>{
    const y=yOf(p,v);
    const tk=sv('line',{x1:col.x0-9,y1:y,x2:col.x0,y2:y,stroke:'#000','stroke-width':2.5});
    
    
    const tl=txt(col.x0-12,y+11,String(v),30,'end');
    
    
  });
  if(p.ylab){
    const cy=top+PH/2;
    const yl=txt(0,0,p.ylab,29,'middle','bold');
    yl.setAttribute('transform','translate(41,'+cy+') rotate(-90)');
    
    
  }
}

function drawColorbar(cb){
  const top=ROW_TOP[cb.row], n=Math.round((cb.vmax-cb.vmin)/cb.step);
  const bh=PH/n;
  for(let k=0;k<n;k++){
    const c=cmapRGB(cb.cmap,(k+0.5)/n);
    const r=sv('rect',{x:CBX,y:top+PH-(k+1)*bh,width:CBW,height:bh+0.6,fill:'rgb('+c.join(',')+')'});
    
    
  }
  if(cb.extend){
    const tri=sv('polygon',{points:(CBX)+','+top+' '+(CBX+CBW)+','+top+' '+(CBX+CBW/2)+','+(top-16),fill:'#6a000d',stroke:'#000','stroke-width':1.5});
    
    
  }
  const fr=sv('rect',{x:CBX,y:top,width:CBW,height:PH,fill:'none',stroke:'#000','stroke-width':1.5});
  
  
  cb.ticks.forEach(v=>{
    const y=top+PH-(v-cb.vmin)/(cb.vmax-cb.vmin)*PH;
    const tk=sv('line',{x1:CBX+CBW,y1:y,x2:CBX+CBW+6,y2:y,stroke:'#000','stroke-width':2});
    
    
    const tl=txt(CBX+CBW+8,y+11,cb.fmt(v),30,'start');
    
    
  });
  let u;
  if(cb.unit==='K'){ u=txt(CBX+6,top-(cb.extend?22:12),'K',28,'middle'); }
  else{
    u=txt(CBX-2,top-12,'m s',28,'middle');
    const sp=document.createElementNS(NS,'tspan');
    sp.setAttribute('dy','-12'); sp.setAttribute('font-size','19');
    sp.textContent='\u22121';
    u.appendChild(sp);
  }
  
  
}

panels.forEach(drawField);
panels.forEach(drawAxes);
cbars.forEach(drawColorbar);
const yl1=txt((LEFT.x0+LEFT.x1)/2,1862,'Years',30,'middle','bold');


const yl2=txt((RIGHT.x0+RIGHT.x1)/2,1862,'Years',30,'middle','bold');


</script>
</body>
</html>
